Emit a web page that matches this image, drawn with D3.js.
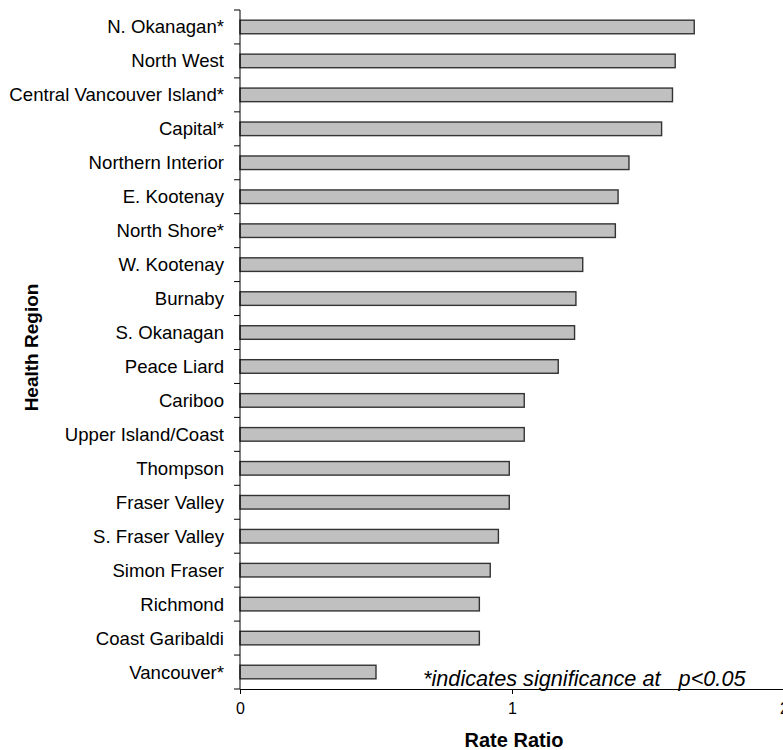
<!DOCTYPE html>
<html>
<head>
<meta charset="utf-8">
<script src="https://cdn.jsdelivr.net/npm/d3@7"></script>
<style>
  html, body { margin: 0; padding: 0; background: #fff; }
  svg { display: block; }
  text { font-family: "Liberation Sans", Arial, sans-serif; fill: #000; }
</style>
</head>
<body>
<svg id="chart" width="783" height="750"></svg>
<script>
// Health regions, top to bottom
const regions = [
  "N. Okanagan*", "North West", "Central Vancouver Island*", "Capital*",
  "Northern Interior", "E. Kootenay", "North Shore*", "W. Kootenay",
  "Burnaby", "S. Okanagan", "Peace Liard", "Cariboo", "Upper Island/Coast ",
  "Thompson", "Fraser Valley", "S. Fraser Valley", "Simon Fraser",
  "Richmond", "Coast Garibaldi", "Vancouver*"
];
// Rate ratio for each region
const rateRatios = [
  1.67, 1.60, 1.59, 1.55,
  1.43, 1.39, 1.38, 1.26,
  1.235, 1.23, 1.17, 1.045, 1.045,
  0.99, 0.99, 0.95, 0.92,
  0.88, 0.88, 0.50
];
const xTicks = [0, 1, 2];
const xTitle = "Rate Ratio";
const yTitle = "Health Region";
const note = "*indicates significance at   p<0.05";

const data = regions.map((r, i) => ({ region: r, value: rateRatios[i] }));

const svg = d3.select("#chart");
const plotLeft = 240, plotRight = 784, plotTop = 10, plotBottom = 689;

const x = d3.scaleLinear().domain([0, 2]).range([plotLeft, plotRight]);
const y = d3.scaleBand().domain(regions).range([plotTop, plotBottom])
  .paddingInner(0.6).paddingOuter(0.3);

// Bars
svg.append("g").selectAll("rect").data(data).join("rect")
  .attr("x", x(0))
  .attr("y", d => y(d.region))
  .attr("width", d => x(d.value) - x(0))
  .attr("height", y.bandwidth())
  .attr("fill", "#c0c0c0")
  .attr("stroke", "#333")
  .attr("stroke-width", 1.4);

// Category labels
svg.append("g").selectAll("text").data(data).join("text")
  .attr("x", 224)
  .attr("y", d => y(d.region) + y.bandwidth() / 2)
  .attr("dy", "0.35em")
  .attr("text-anchor", "end")
  .style("font-size", "18.6px")
  .text(d => d.region);

// Y axis line with boundary ticks between categories
const step = y.step();
const yAxis = svg.append("g").attr("stroke", "#000").attr("stroke-width", 1);
yAxis.append("line").attr("x1", plotLeft).attr("x2", plotLeft).attr("y1", plotTop).attr("y2", plotBottom);
yAxis.selectAll("line.tick").data(d3.range(regions.length + 1)).join("line")
  .attr("class", "tick")
  .attr("x1", plotLeft - 6).attr("x2", plotLeft)
  .attr("y1", i => plotTop + i * step).attr("y2", i => plotTop + i * step);

// X axis
const xAxis = svg.append("g").attr("transform", `translate(0,${plotBottom})`)
  .call(d3.axisBottom(x).tickValues(xTicks).tickFormat(d3.format("d")).tickSize(5).tickPadding(9).tickSizeOuter(0));
xAxis.select(".domain").attr("stroke", "#000");
xAxis.selectAll(".tick line").attr("stroke", "#000");
xAxis.selectAll(".tick text")
  .style("font-size", "16px")
  .style("font-family", "'Liberation Sans', Arial, sans-serif");

// Axis titles
svg.append("text")
  .attr("x", (plotLeft + x(2)) / 2 + 2)
  .attr("y", 747)
  .attr("text-anchor", "middle")
  .style("font-size", "20px")
  .style("font-weight", "bold")
  .text(xTitle);

svg.append("text")
  .attr("transform", `translate(38,${(plotTop + plotBottom) / 2 - 2}) rotate(-90)`)
  .attr("text-anchor", "middle")
  .style("font-size", "19px")
  .style("font-weight", "bold")
  .text(yTitle);

// Significance note
svg.append("text")
  .attr("x", 423)
  .attr("y", 686)
  .attr("xml:space", "preserve")
  .style("white-space", "pre")
  .style("font-size", "21.7px")
  .style("font-style", "italic")
  .text(note);
</script>
</body>
</html>
